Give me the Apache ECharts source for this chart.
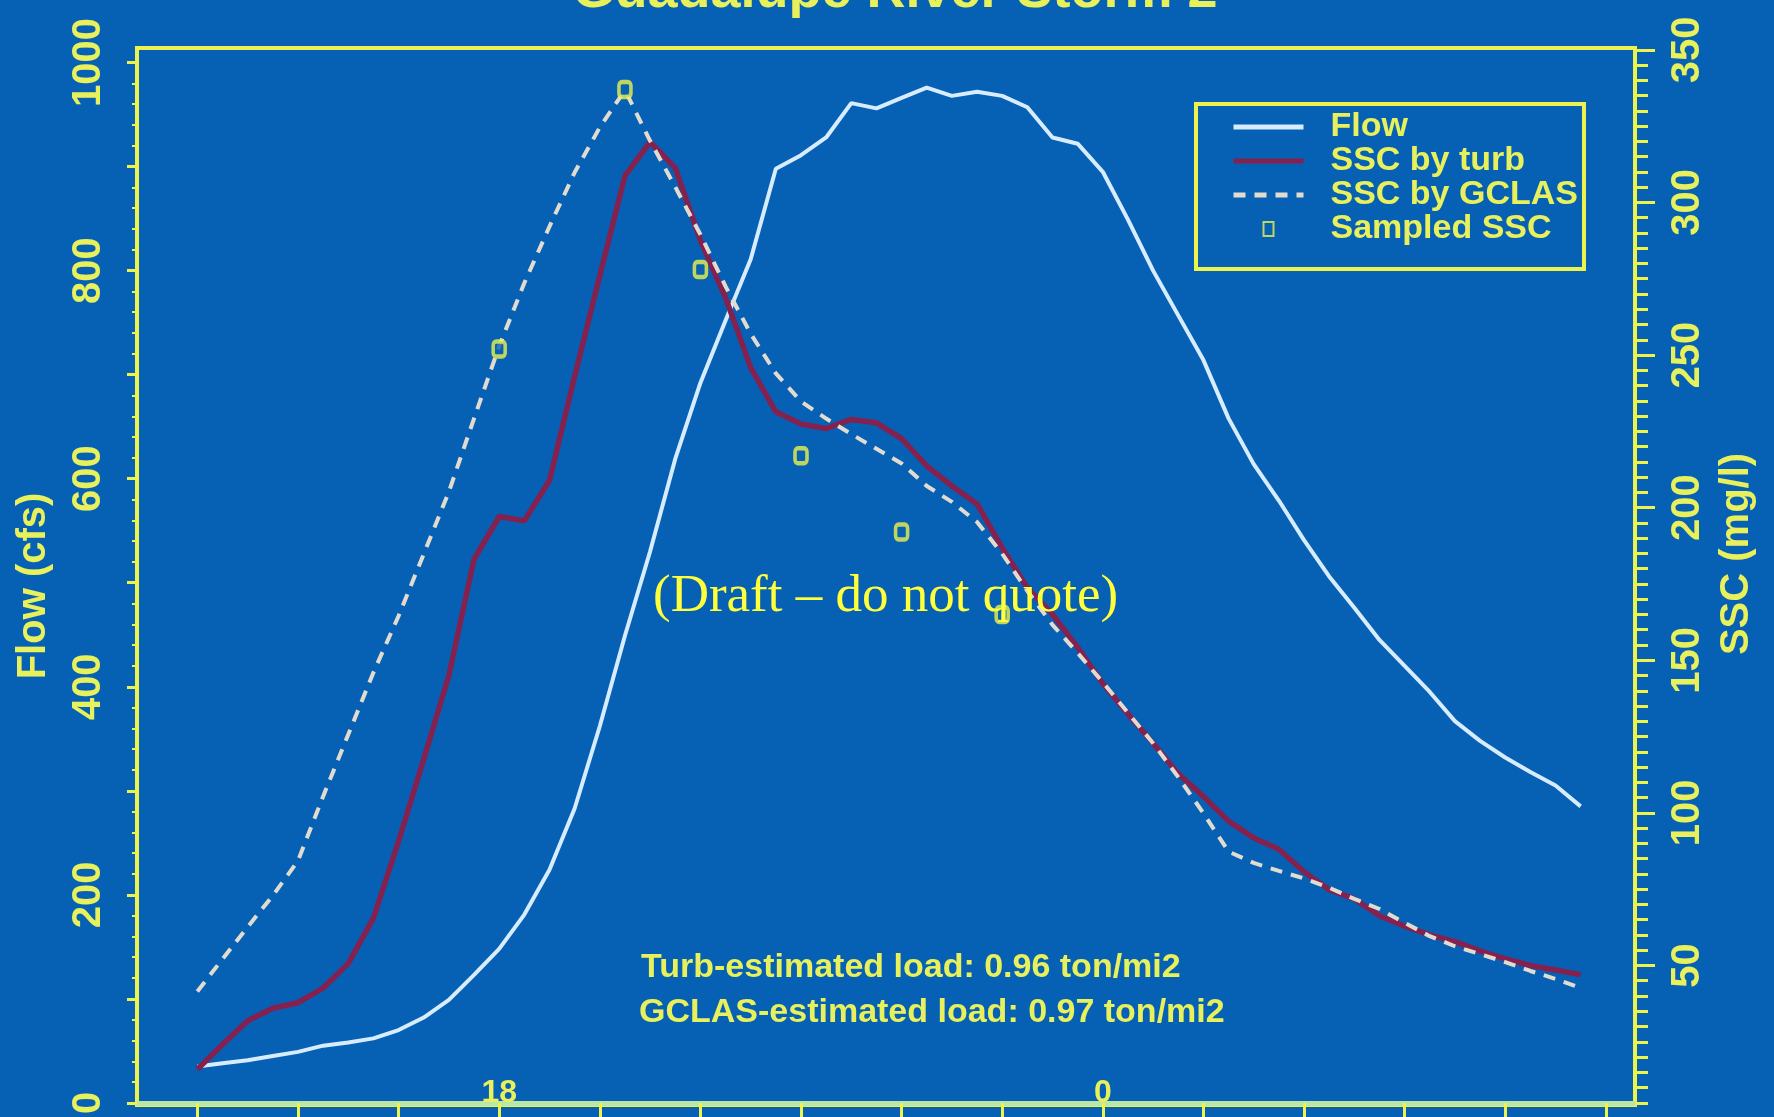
<!DOCTYPE html>
<html><head><meta charset="utf-8">
<script src="https://cdn.jsdelivr.net/npm/echarts@6/dist/echarts.min.js"></script>
<style>html,body{margin:0;padding:0;background:#0661b4;} #c{width:1774px;height:1117px;}</style>
</head><body><div id="c"></div>
<script>
// ---- data (hours since midnight of day 1; 24 = 0h next day) ----
const hours = [15,15.25,15.5,15.75,16,16.25,16.5,16.75,17,17.25,17.5,17.75,18,18.25,18.5,18.75,19,19.25,19.5,19.75,20,20.25,20.5,20.75,21,21.25,21.5,21.75,22,22.25,22.5,22.75,23,23.25,23.5,23.75,24,24.25,24.5,24.75,25,25.25,25.5,25.75,26,26.25,26.5,26.75,27,27.25,27.5,27.75,28,28.25,28.5,28.75];
const flowCfs = [35,38,41,45,49,55,58,62,70,82,99,123,148,181,224,283,362,449,530,619,692,752,811,898,911,928,961,956,966,976,968,972,968,957,928,922,895,849,800,757,714,658,614,579,541,506,476,445,420,395,367,348,332,318,305,285];
const sscTurb = [16.0,24.1,31.9,36.0,37.8,42.6,50.7,65.5,90.7,117.6,145.0,183.1,197.1,195.7,208.9,243.0,276.0,308.7,319.8,311.3,287.6,268.8,245.9,231.4,227.4,225.9,228.9,227.8,222.6,213.7,207.1,201.2,186.8,173.8,165.0,154.2,142.4,132.4,122.8,112.8,105.4,97.3,91.8,88.1,80.7,74.8,71.8,66.3,62.9,60.0,57.8,54.8,52.2,50.0,48.5,47.0];
const sscGclas = [41.5,52.1,62.6,72.9,84.3,105.4,125.7,146.0,164.5,184.8,205.2,229.2,252.9,273.6,292.1,309.8,324.6,336.8,320.2,305.1,289.5,272.5,257.0,244.0,234.8,229.2,224.1,219.3,214.5,207.1,201.9,195.3,184.9,172.7,161.6,152.4,142.8,132.8,122.8,111.7,99.9,87.3,83.6,81.0,78.5,75.5,71.8,68.5,64.0,59.6,56.3,53.7,51.1,48.2,45.6,42.6];
const sampleHours = [18,19.25,20,21,22,23];
const sampleSsc = [252,337,278,217,192,165];
// ---- ticks / labels ----
const xTicks = [15,16,17,18,19,20,21,22,23,24,25,26,27,28,29];
const xLabels = [18,24];
const flowLabels = [0,200,400,600,800,1000];
const flowMajorTicks = [0,100,200,300,400,500,600,700,800,900,1000];
const flowMinorTicks = [20,40,60,80,120,140,160,180,220,240,260,280,320,340,360,380,420,440,460,480,520,540,560,580,620,640,660,680,720,740,760,780,820,840,860,880,920,940,960,980];
const sscLabels = [50,100,150,200,250,300,350];
const sscMinorTicks = [5,10,15,20,25,30,35,40,45,55,60,65,70,75,80,85,90,95,105,110,115,120,125,130,135,140,145,155,160,165,170,175,180,185,190,195,205,210,215,220,225,230,235,240,245,255,260,265,270,275,280,285,290,295,305,310,315,320,325,330,335,340,345];

const BG = '#0661b4';
const YEL = '#e8f05c';
const FRAME = '#eef24c';
const FONT = '"Liberation Sans", Arial, sans-serif';

const chart = echarts.init(document.getElementById('c'), null, {renderer:'canvas'});
const lab = (extra) => Object.assign({color: YEL, fontWeight: 'bold', fontFamily: FONT}, extra);

const option = {
  backgroundColor: BG,
  animation: false,
  grid: {left: 137, right: 139, top: 48, bottom: 7, show: true, borderColor: FRAME, borderWidth: 4, backgroundColor: 'transparent'},
  xAxis: {
    type: 'value', min: 14.4, max: 29.29, splitLine: {show: false},
    axisLine: {show: true, lineStyle: {color: '#bce6a4', width: 5}},
    axisTick: {show: true, length: 14, customValues: xTicks, lineStyle: {color: FRAME, width: 3}},
    axisLabel: lab({inside: true, customValues: xLabels, formatter: v => String(v % 24), fontSize: 32, margin: -4})
  },
  yAxis: [
    {type: 'value', position: 'left', min: -2, max: 1014, splitLine: {show: false}, axisLine: {show: false},
     axisTick: {show: true, length: 10, customValues: flowMajorTicks, lineStyle: {color: FRAME, width: 3}},
     axisLabel: lab({customValues: flowLabels, formatter: v => String(v), rotate: 90, fontSize: 40, margin: 28})},
    {type: 'value', position: 'right', min: 4.3, max: 350.6, splitLine: {show: false}, axisLine: {show: false},
     axisTick: {show: true, length: 20, customValues: sscLabels, lineStyle: {color: FRAME, width: 3}},
     axisLabel: lab({customValues: sscLabels, formatter: v => String(v), rotate: 90, fontSize: 40, margin: 33})},
    {type: 'value', position: 'left', min: -2, max: 1014, splitLine: {show: false}, axisLine: {show: false},
     axisTick: {show: true, length: 5, customValues: flowMinorTicks, lineStyle: {color: FRAME, width: 2}},
     axisLabel: {show: false}},
    {type: 'value', position: 'right', min: 4.3, max: 350.6, splitLine: {show: false}, axisLine: {show: false},
     axisTick: {show: true, length: 13, customValues: sscMinorTicks, lineStyle: {color: FRAME, width: 3}},
     axisLabel: {show: false}}
  ],
  legend: {
    orient: 'vertical', left: 1196, top: 104, padding: [6, 6, 23, 35], itemGap: 0,
    itemWidth: 70, itemHeight: 14, borderColor: FRAME, borderWidth: 4,
    lineStyle: {width: 5},
    textStyle: lab({fontSize: 34, lineHeight: 33, padding: [0, 0, 0, 22]}),
    data: [
      {name: 'Flow', itemStyle: {opacity: 0}},
      {name: 'SSC by turb', itemStyle: {opacity: 0}},
      {name: 'SSC by GCLAS', itemStyle: {opacity: 0}},
      {name: 'Sampled SSC', icon: 'path://M0,0 L10,0 L10,14 L0,14 Z'}
    ]
  },
  series: [
    {name: 'Flow', type: 'line', yAxisIndex: 0, symbol: 'none', showSymbol: false,
     data: hours.map((h, i) => [h, flowCfs[i]]),
     lineStyle: {color: '#d8ecff', width: 4}, itemStyle: {color: '#d8ecff'}},
    {name: 'SSC by turb', type: 'line', yAxisIndex: 1, symbol: 'none', showSymbol: false,
     data: hours.map((h, i) => [h, sscTurb[i]]),
     lineStyle: {color: '#85214f', width: 5.5}, itemStyle: {color: '#85214f'}},
    {name: 'SSC by GCLAS', type: 'line', yAxisIndex: 1, symbol: 'none', showSymbol: false,
     data: hours.map((h, i) => [h, sscGclas[i]]),
     lineStyle: {color: '#e2dcd0', width: 4, type: [12, 9]}, itemStyle: {color: '#e2dcd0'}},
    {name: 'Sampled SSC', type: 'scatter', yAxisIndex: 1, symbol: 'roundRect', symbolSize: [12, 15],
     data: sampleHours.map((h, i) => [h, sampleSsc[i]]),
     itemStyle: {color: BG, borderColor: FRAME, borderWidth: 4}, z: 4}
  ],
  graphic: [
    {type: 'text', x: 895, y: 19, z: 100, style: {text: 'Guadalupe River Storm 2', fill: YEL, fontSize: 54, fontWeight: 'bold', fontFamily: FONT, align: 'center', verticalAlign: 'bottom'}},
    {type: 'text', x: 34, y: 586, rotation: Math.PI / 2, z: 100, style: {text: 'Flow (cfs)', fill: YEL, fontSize: 40, fontWeight: 'bold', fontFamily: FONT, align: 'center', verticalAlign: 'middle'}},
    {type: 'text', x: 1737, y: 554, rotation: Math.PI / 2, z: 100, style: {text: 'SSC (mg/l)', fill: YEL, fontSize: 40, fontWeight: 'bold', fontFamily: FONT, align: 'center', verticalAlign: 'middle'}},
    {type: 'text', x: 641, y: 968, z: 100, style: {text: 'Turb-estimated load: 0.96 ton/mi2', fill: YEL, fontSize: 34, fontWeight: 'bold', fontFamily: FONT, align: 'left', verticalAlign: 'middle'}},
    {type: 'text', x: 639, y: 1013, z: 100, style: {text: 'GCLAS-estimated load: 0.97 ton/mi2', fill: YEL, fontSize: 34, fontWeight: 'bold', fontFamily: FONT, align: 'left', verticalAlign: 'middle'}},
    {type: 'text', x: 653, y: 597, z: 100, style: {text: '(Draft \u2013 do not quote)', fill: '#ffff3c', fontSize: 53, fontFamily: '"Liberation Serif", "Times New Roman", serif', align: 'left', verticalAlign: 'middle'}}
  ]
};
chart.setOption(option);
</script></body></html>
